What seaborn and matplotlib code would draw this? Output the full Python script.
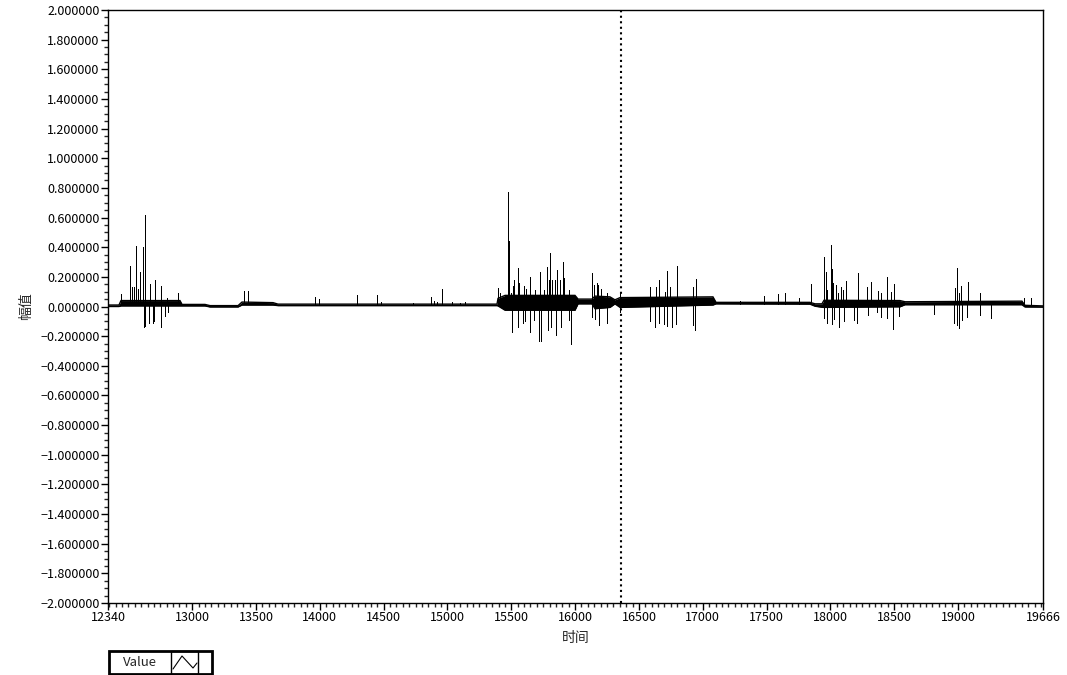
import matplotlib
matplotlib.use("Agg")
import matplotlib.pyplot as plt
import matplotlib.ticker as mticker
from matplotlib.patches import Rectangle
from matplotlib.lines import Line2D
import pandas as pd
import seaborn as sns

# -----------------------------
# data
# -----------------------------
# dense noise band (upper / lower envelope)
band_t = [12340, 12426, 12442, 12904, 12920, 13100, 13139, 13359, 13390, 13633,
          13672, 15388, 15396, 15451, 15999, 16023, 16132, 16156, 16273, 16312,
          16352, 17080, 17104, 17840, 17880, 17934, 17950, 18545, 18585, 19501,
          19525, 19666]
band_hi = [0.010, 0.010, 0.040, 0.040, 0.014, 0.014, 0.006, 0.006, 0.030, 0.026,
           0.016, 0.016, 0.055, 0.075, 0.075, 0.050, 0.050, 0.070, 0.065, 0.045,
           0.060, 0.065, 0.028, 0.028, 0.018, 0.018, 0.042, 0.040, 0.032, 0.036,
           0.008, 0.004]
band_lo = [0.000, 0.000, 0.004, 0.004, 0.004, 0.004, -0.003, -0.003, 0.010, 0.010,
           0.006, 0.006, 0.004, -0.025, -0.025, 0.018, 0.018, -0.015, -0.006, 0.018,
           -0.006, 0.010, 0.018, 0.016, 0.002, -0.005, -0.006, -0.002, 0.012, 0.012,
           -0.003, -0.004]

# positive spikes
up_t = [12444, 12515, 12528, 12541, 12557, 12573, 12588, 12617, 12627, 12632,
        12667, 12706, 12758, 12800, 12891, 13406, 13437, 13964, 13992, 14289,
        14450, 14479, 14732, 14868, 14897, 14915, 14955, 15035, 15098, 15137,
        15398, 15411, 15476, 15484, 15495, 15511, 15519, 15550, 15562, 15602,
        15613, 15646, 15686, 15722, 15756, 15782, 15793, 15805, 15821, 15842,
        15855, 15881, 15903, 15915, 15954, 16130, 16148, 16169, 16182, 16203,
        16252, 16352, 16587, 16634, 16660, 16704, 16722, 16743, 16796, 16926,
        16949, 17292, 17482, 17587, 17647, 17752, 17846, 17952, 17963, 17971,
        18002, 18010, 18023, 18041, 18057, 18081, 18101, 18120, 18214, 18284,
        18318, 18375, 18396, 18446, 18472, 18498, 18977, 18994, 19010, 19026,
        19076, 19172, 19517, 19569]
up_v = [0.085, 0.270, 0.130, 0.130, 0.410, 0.120, 0.230, 0.400, 0.620, 0.180,
        0.150, 0.180, 0.140, 0.057, 0.090, 0.107, 0.105, 0.064, 0.050, 0.078,
        0.078, 0.030, 0.022, 0.062, 0.035, 0.030, 0.116, 0.030, 0.025, 0.030,
        0.123, 0.090, 0.770, 0.440, 0.090, 0.138, 0.180, 0.260, 0.156, 0.140,
        0.120, 0.200, 0.110, 0.235, 0.110, 0.264, 0.180, 0.363, 0.180, 0.180,
        0.246, 0.180, 0.300, 0.190, 0.110, 0.224, 0.145, 0.156, 0.145, 0.116,
        0.093, 0.089, 0.130, 0.134, 0.180, 0.100, 0.240, 0.134, 0.275, 0.130,
        0.186, 0.040, 0.073, 0.082, 0.093, 0.060, 0.155, 0.336, 0.235, 0.110,
        0.415, 0.250, 0.156, 0.145, 0.090, 0.134, 0.110, 0.172, 0.224, 0.134,
        0.167, 0.105, 0.090, 0.197, 0.100, 0.150, 0.123, 0.257, 0.090, 0.140,
        0.163, 0.090, 0.055, 0.055]

# negative spikes
down_t = [12624, 12632, 12659, 12695, 12703, 12755, 12789, 12812, 15509, 15553,
          15595, 15611, 15643, 15679, 15718, 15736, 15791, 15811, 15852, 15889,
          15954, 15968, 16130, 16153, 16185, 16252, 16352, 16587, 16628, 16657,
          16696, 16722, 16757, 16790, 16921, 16939, 17952, 17971, 18016, 18031,
          18070, 18109, 18185, 18211, 18292, 18363, 18394, 18441, 18493, 18535,
          18812, 18971, 18990, 19010, 19029, 19073, 19172, 19258]
down_v = [-0.136, -0.130, -0.110, -0.110, -0.100, -0.140, -0.065, -0.040, -0.170, -0.136,
          -0.113, -0.100, -0.170, -0.090, -0.233, -0.230, -0.158, -0.136, -0.190, -0.136,
          -0.090, -0.255, -0.070, -0.087, -0.125, -0.110, -0.035, -0.100, -0.136, -0.110,
          -0.118, -0.130, -0.136, -0.118, -0.125, -0.158, -0.080, -0.110, -0.118, -0.087,
          -0.140, -0.100, -0.090, -0.113, -0.057, -0.040, -0.073, -0.080, -0.154, -0.064,
          -0.050, -0.110, -0.125, -0.147, -0.090, -0.070, -0.060, -0.080]

cursor_t = 16360
x_min, x_max = 12340, 19666
x_ticks = [12340, 13000, 13500, 14000, 14500, 15000, 15500, 16000,
           16500, 17000, 17500, 18000, 18500, 19000, 19666]

# -----------------------------
# figure
# -----------------------------
sns.set_style("white")
plt.rcParams['font.family'] = ['Noto Sans CJK SC', 'DejaVu Sans']

fig = plt.figure(figsize=(10.67, 6.75), dpi=100)
ax = fig.add_axes([108 / 1067, 1 - 603 / 675, 935 / 1067, 593 / 675])

band = pd.DataFrame({'t': band_t, 'hi': band_hi, 'lo': band_lo})
ax.fill_between(band['t'], band['lo'], band['hi'], color='black', lw=0)
sns.lineplot(data=band, x='t', y='hi', ax=ax, color='black', lw=1.0,
             solid_capstyle='butt', solid_joinstyle='miter')
sns.lineplot(data=band, x='t', y='lo', ax=ax, color='black', lw=1.0,
             solid_capstyle='butt', solid_joinstyle='miter')
ax.vlines(up_t, 0.02, up_v, color='black', lw=0.72, antialiased=False)
ax.vlines(down_t, 0.02, down_v, color='black', lw=0.72, antialiased=False)

ax.axvline(cursor_t, color='black', ls=':', lw=1.5)

ax.set_xlim(x_min, x_max)
ax.set_ylim(-2, 2)
ax.set_xticks(x_ticks)
ax.set_xticklabels([str(t) for t in x_ticks])
ax.xaxis.set_minor_locator(mticker.MultipleLocator(50))
ax.yaxis.set_major_locator(mticker.MultipleLocator(0.2))
ax.yaxis.set_minor_locator(mticker.MultipleLocator(0.05))
ax.yaxis.set_major_formatter(mticker.StrMethodFormatter('{x:.6f}'))

ax.tick_params(axis='both', which='major', direction='out', length=5, width=1,
               labelsize=9, colors='black', pad=1, bottom=True, left=True)
ax.tick_params(axis='both', which='minor', direction='out', length=3, width=1,
               bottom=True, left=True)
for s in ax.spines.values():
    s.set_color('black')
    s.set_linewidth(1)

ax.set_xlabel('时间', fontsize=10, labelpad=5)
ax.set_ylabel('幅值', fontsize=10, labelpad=5)

# -----------------------------
# legend box (LabVIEW style)
# -----------------------------
W, H = 1067, 675
fig.patches.append(Rectangle((109 / W, 1 - 674 / H), 103 / W, 23 / H,
                             transform=fig.transFigure, fill=False,
                             ec='black', lw=2))
fig.patches.append(Rectangle((171 / W, 1 - 674 / H), 27 / W, 23 / H,
                             transform=fig.transFigure, fill=False,
                             ec='black', lw=1))
fig.text(140 / W, 1 - 662 / H, 'Value', ha='center', va='center', fontsize=9.5)
fig.lines.append(Line2D([173 / W, 182 / W, 193 / W, 197 / W],
                        [1 - 669 / H, 1 - 656 / H, 1 - 668 / H, 1 - 663 / H],
                        transform=fig.transFigure, color='black', lw=0.8))

fig.savefig('out.png', dpi=100)
